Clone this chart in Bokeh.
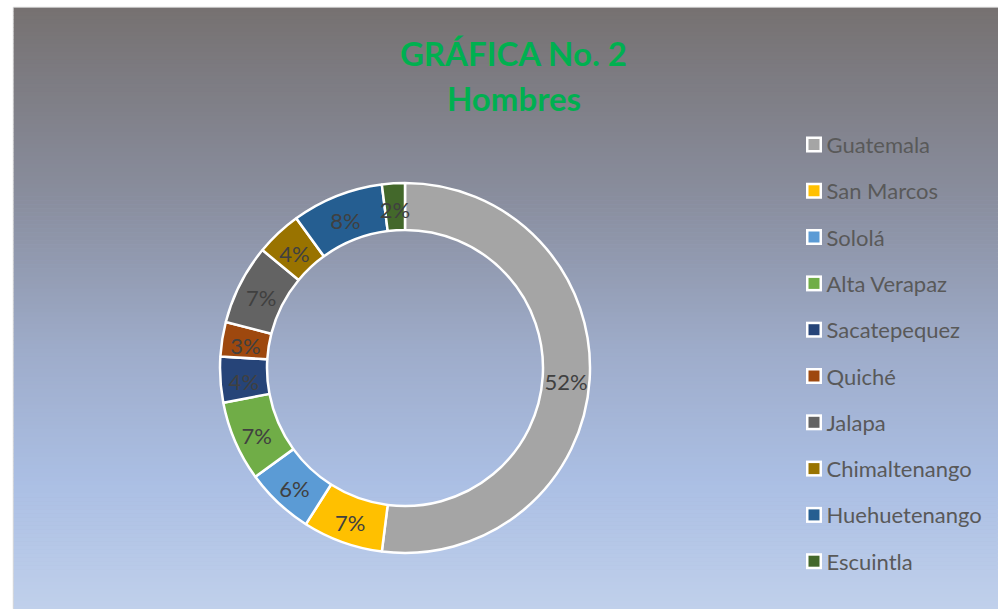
from math import pi
import numpy as np
from bokeh.plotting import figure
from bokeh.models import Range1d, ColumnDataSource
from bokeh.core.properties import value
from bokeh.embed import file_html
from bokeh.resources import INLINE

# ---- data ----
title_lines = ["GRÁFICA No. 2", "Hombres"]
categories = ["Guatemala", "San Marcos", "Sololá", "Alta Verapaz", "Sacatepequez",
              "Quiché", "Jalapa", "Chimaltenango", "Huehuetenango", "Escuintla"]
values = [52, 7, 6, 7, 4, 3, 7, 4, 8, 2]
colors = ["#A5A5A5", "#FFC000", "#5B9BD5", "#70AD47", "#264478",
          "#9E480E", "#636363", "#997300", "#255E91", "#43682B"]

# ---- layout (screen-like coordinates; y measured up from bottom) ----
W, H = 998, 609
X0, X1 = 13, 998
TOP = 609
FH = 602
cx, cy = 404.5, TOP - 367.5
R_out, R_in = 185, 138

p = figure(width=W, height=H, x_range=Range1d(X0, X1), y_range=Range1d(0, FH),
           output_backend="svg", toolbar_location=None,
           min_border_left=13, min_border_right=0, min_border_top=7, min_border_bottom=0)
p.xaxis.visible = False
p.yaxis.visible = False
p.grid.visible = False
p.outline_line_color = "#d9d9d9"
p.outline_line_width = 1.5
p.border_fill_color = "white"
p.background_fill_color = "#9fadc9"

# background gradient (style)
stops_y = [0.0, 0.33, 0.57, 0.79, 1.0]
stops_c = [(118, 113, 113), (138, 143, 160), (158, 172, 202), (171, 191, 228), (192, 208, 235)]
n = 150
edges = np.linspace(0, FH, n + 1)
tops = FH - edges[:-1]
bots = FH - edges[1:]
fr = (edges[:-1] + edges[1:]) / 2 / FH
cols = []
for f in fr:
    rgb = [int(round(np.interp(f, stops_y, [c[k] for c in stops_c]))) for k in range(3)]
    cols.append("#%02x%02x%02x" % tuple(rgb))
p.quad(left=X0, right=X1, top=tops, bottom=bots - 0.5, fill_color=cols, line_color=None)

# donut
total = float(sum(values))
fracs = [v / total for v in values]
cum = np.concatenate([[0], np.cumsum(fracs)])
start = [pi / 2 - 2 * pi * cum[i + 1] for i in range(len(values))]
end = [pi / 2 - 2 * pi * cum[i] for i in range(len(values))]
mid = [(s + e) / 2 for s, e in zip(start, end)]
r_lab = (R_out + R_in) / 2
src = ColumnDataSource(dict(
    cat=categories, val=values, color=colors, start=start, end=end,
    lx=[cx + r_lab * np.cos(m) for m in mid],
    ly=[cy - 3 + r_lab * np.sin(m) for m in mid],
    lab=["%d%%" % round(f * 100) for f in fracs],
))
p.annular_wedge(x=cx, y=cy, inner_radius=R_in, outer_radius=R_out,
                start_angle="start", end_angle="end", fill_color="color",
                line_color="white", line_width=2.5, source=src)
p.text(x="lx", y="ly", text="lab", source=src, text_align="center", text_baseline="middle",
       text_font=value("Lato"), text_font_size="22px", text_color="#404040")

# title
p.text(x=[513.5, 513.5], y=[TOP - 52, TOP - 97], text=title_lines,
       text_align="center", text_baseline="middle", text_font=value("Lato"),
       text_font_style="bold", text_font_size="33px", text_color="#00B050")

# legend
leg_y = [TOP - (144 + 46.3 * i) for i in range(len(categories))]
p.rect(x=813.5, y=leg_y, width=16, height=16, fill_color="white", line_color=None)
p.rect(x=813.5, y=leg_y, width=11, height=11, fill_color=colors, line_color=None)
p.text(x=826, y=leg_y, text=categories, text_align="left", text_baseline="middle",
       text_font=value("Lato"), text_font_size="22px", text_color="#595959")

open("out.html", "w").write(file_html(p, INLINE))
